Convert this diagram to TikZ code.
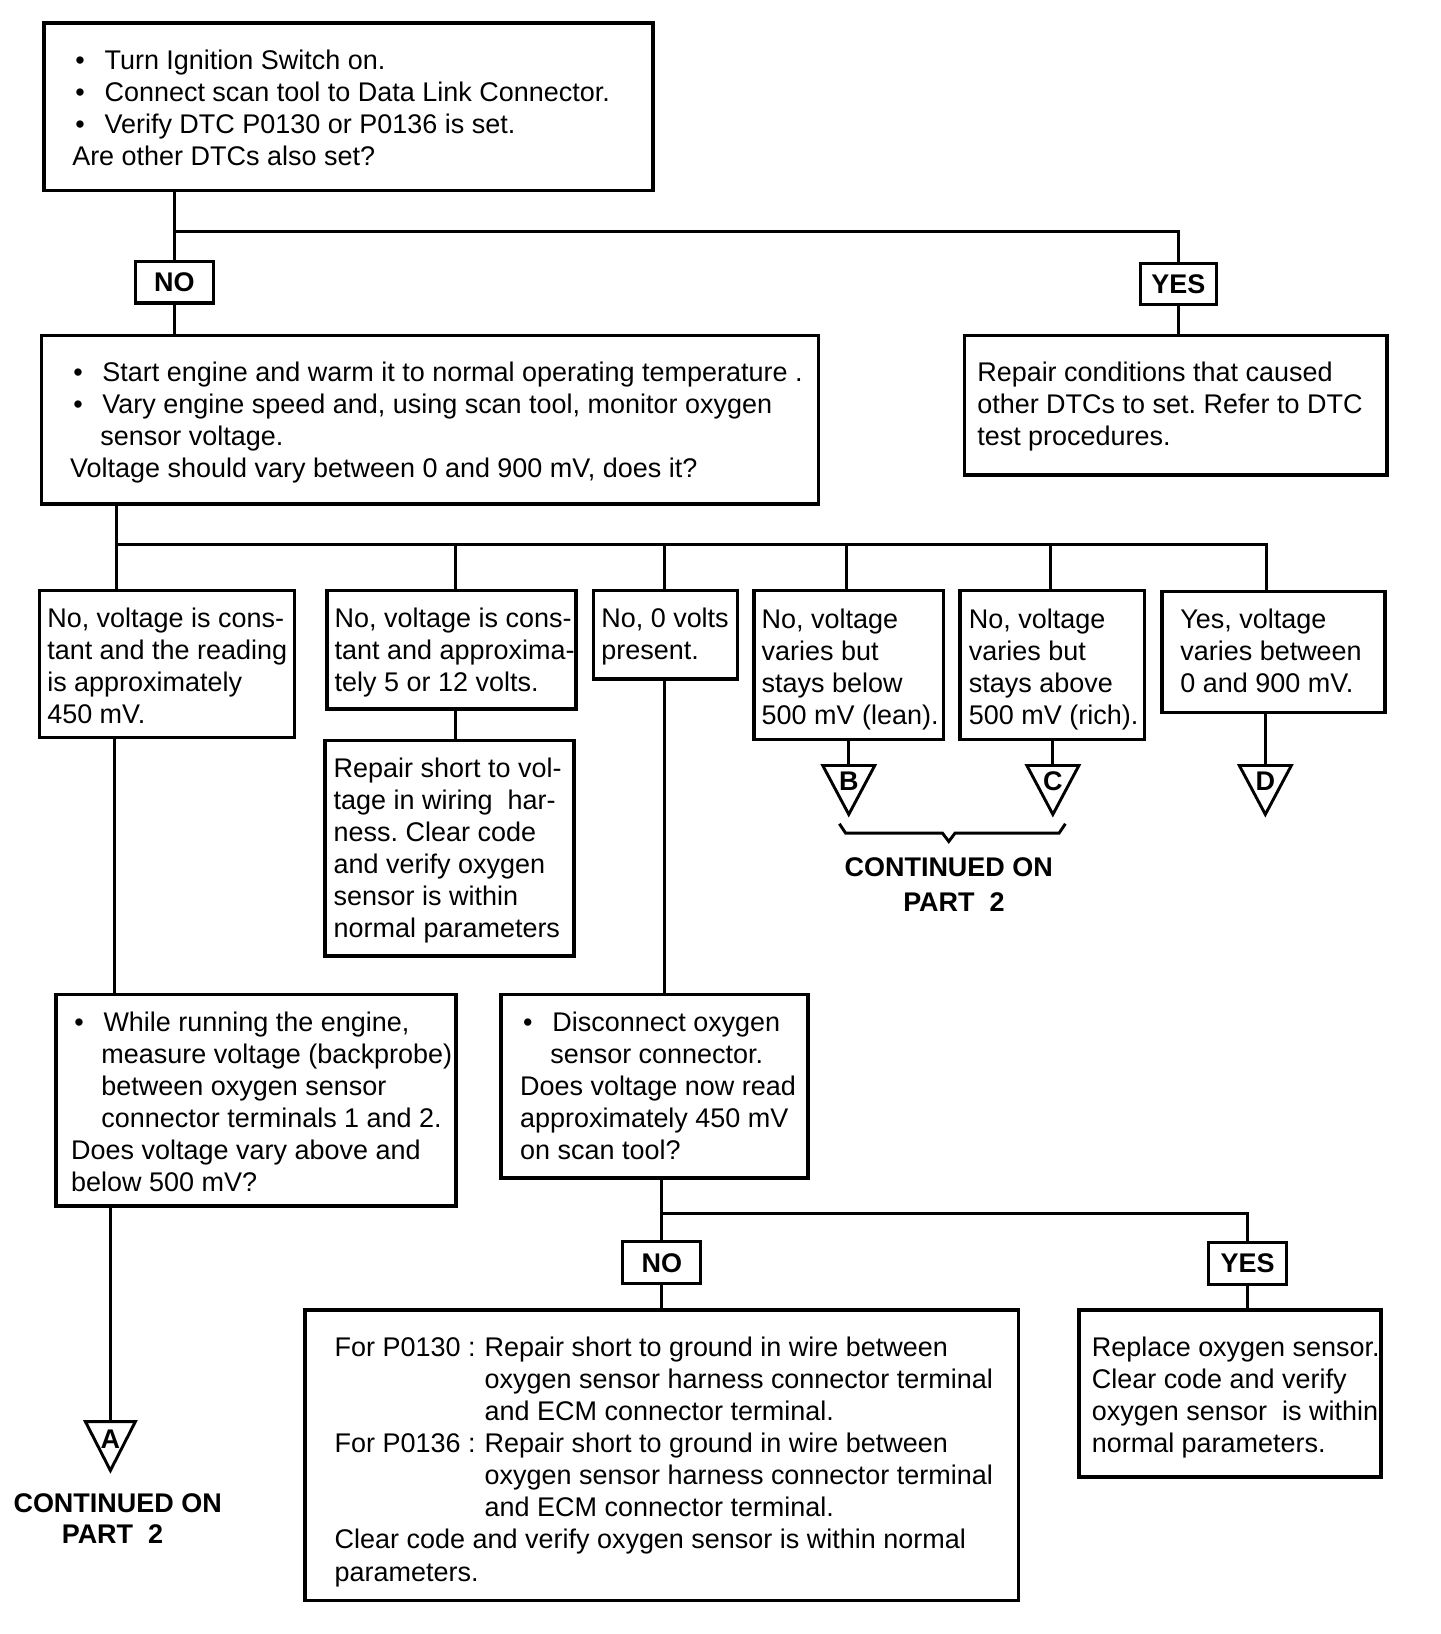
\documentclass[tikz,border=0pt]{standalone}
\usepackage{fontspec}
\setmainfont{Liberation Sans}
\usetikzlibrary{fit}
\newcommand{\bul}{\makebox[15.5pt][l]{\hspace{1.5pt}\textbullet}}
\newcommand{\ind}{\hspace*{14.5pt}}
\frenchspacing
\begin{document}
\begin{tikzpicture}[x=0.5pt,y=-0.5pt,
  box/.style={draw, line width=1.7pt, inner sep=0pt},
  txt/.style={anchor=north west, inner sep=0pt, align=left, font=\fontsize{12.95}{15.4}\selectfont\frenchspacing},
  lbl/.style={draw, line width=1.5pt, inner sep=0pt, minimum width=37.5pt, minimum height=20pt, font=\fontsize{12.95}{15.4}\selectfont\bfseries},
  conn/.style={line width=1.4pt},
  tri/.style={line width=1.4pt, line join=miter},
  cont/.style={inner sep=0pt, font=\fontsize{12.95}{15.4}\selectfont\bfseries},
  letter/.style={inner sep=0pt, font=\fontsize{12.95}{15.4}\selectfont\bfseries}]
\useasboundingbox (0,0) rectangle (1383,1569);
\fill[white] (0,0) rectangle (1383,1569);

% ---------- boxes ----------
\node[box, fit={(42,22) (627,183)}] (top) {};
\node[txt] (ttop) at (69,44.6) {\strut\bul Turn Ignition Switch on.\\
\bul Connect scan tool to Data Link Connector.\\
\bul Verify DTC P0130 or P0136 is set.\\
Are other DTCs also set?};

\node[lbl] (no) at (167.5,271) {NO};
\node[lbl, minimum width=36.5pt, minimum height=19.5pt] (yes) at (1131.5,272.5) {YES};

\node[box, fit={(40,322) (786,484)}] (box2) {};
\node[txt] (tbox2) at (67,344.6) {\strut\bul Start engine and warm it to normal operating temperature .\\
\bul Vary engine speed and, using scan tool, monitor oxygen\\
\ind sensor voltage.\\
Voltage should vary between 0 and 900 mV, does it?};

\node[box, fit={(926,322) (1332,456)}] (box3) {};
\node[txt] (tbox3) at (938,344.6) {\strut Repair conditions that caused\\
other DTCs to set. Refer to DTC\\
test procedures.};

\node[box, fit={(38,567) (283,708)}] (b1) {};
\node[txt] (tb1) at (45,580.6) {\strut No, voltage is cons-\\tant and the reading\\is approximately\\450 mV.};

\node[box, fit={(314,567) (553,681)}] (b2) {};
\node[txt] (tb2) at (321,580.6) {\strut No, voltage is cons-\\tant and approxima-\\tely 5 or 12 volts.};

\node[box, fit={(570,567) (708,652)}] (b3) {};
\node[txt] (tb3) at (577,580.6) {\strut No, 0 volts\\present.};

\node[box, fit={(724,567) (906,710)}] (b4) {};
\node[txt] (tb4) at (731,581.6) {\strut No, voltage\\varies but\\stays below\\500 mV (lean).};

\node[box, fit={(922,567) (1099,710)}] (b5) {};
\node[txt] (tb5) at (930,581.6) {\strut No, voltage\\varies but\\stays above\\500 mV (rich).};

\node[box, fit={(1116,568) (1330,684)}] (b6) {};
\node[txt] (tb6) at (1133,581.6) {\strut Yes, voltage\\varies between\\0 and 900 mV.};

\node[box, fit={(312,711) (551,918)}] (r) {};
\node[txt] (tr) at (320,724.6) {\strut Repair short to vol-\\tage in wiring\ \ har-\\ness. Clear code\\and verify oxygen\\sensor is within\\normal parameters};

\node[box, fit={(54,955) (438,1158)}] (w) {};
\node[txt] (tw) at (68,968.6) {\strut\bul While running the engine,\\
\ind measure voltage (backprobe)\\
\ind between oxygen sensor\\
\ind connector terminals 1 and 2.\\
Does voltage vary above and\\
below 500 mV?};

\node[box, fit={(481,955) (776,1131)}] (xb) {};
\node[txt] (txb) at (499,968.6) {\strut\bul Disconnect oxygen\\
\ind sensor connector.\\
Does voltage now read\\
approximately 450 mV\\
on scan tool?};

\node[lbl] (no2) at (635.5,1212.5) {NO};
\node[lbl] (yes2) at (1198,1213) {YES};

\node[box, fit={(293,1258) (978,1537)}] (yb) {};
\node[txt] (tyb) at (321,1280.6) {\strut\makebox[72pt][l]{For P0130 :}Repair short to ground in wire between\\
\hspace*{72pt}oxygen sensor harness connector terminal\\
\hspace*{72pt}and ECM connector terminal.\\
\makebox[72pt][l]{For P0136 :}Repair short to ground in wire between\\
\hspace*{72pt}oxygen sensor harness connector terminal\\
\hspace*{72pt}and ECM connector terminal.\\
Clear code and verify oxygen sensor is within normal\\
parameters.};

\node[box, fit={(1036,1258) (1326,1418)}] (zb) {};
\node[txt] (tzb) at (1048,1280.6) {\strut Replace oxygen sensor.\\Clear code and verify\\oxygen sensor\ \ is within\\normal parameters.};

% ---------- connectors ----------
\coordinate (j1) at (168,222);
\draw[conn] (no.north |- top.south) -- (no.north);
\draw[conn] (j1) -| (yes.north);
\draw[conn] (no.south) -- (no.south |- box2.north);
\draw[conn] (yes.south) -- (yes.south |- box3.north);

\coordinate (d1) at (112,523);
\coordinate (d2) at (437,523);
\coordinate (d3) at (638,523);
\coordinate (d4) at (813,523);
\coordinate (d5) at (1009,523);
\coordinate (d6) at (1216,523);
\draw[conn] (d1 |- box2.south) -- (d1) -- (d6) -- (d6 |- b6.north);
\draw[conn] (d1) -- (d1 |- b1.north);
\draw[conn] (d2) -- (d2 |- b2.north);
\draw[conn] (d3) -- (d3 |- b3.north);
\draw[conn] (d4) -- (d4 |- b4.north);
\draw[conn] (d5) -- (d5 |- b5.north);

\draw[conn] (d2 |- b2.south) -- (d2 |- r.north);

% connectors to off-page triangles
\coordinate (tBt) at (815,735);
\coordinate (tCt) at (1011,735);
\coordinate (tDt) at (1215,735);
\coordinate (tAt) at (106,1365);
\draw[conn] (b4.south -| tBt) -- (tBt);
\draw[conn] (b5.south -| tCt) -- (tCt);
\draw[conn] (b6.south -| tDt) -- (tDt);
\draw[tri] (tBt) ++(-25,0) -- ++(50,0) -- ++(-25,47) -- cycle;
\draw[tri] (tCt) ++(-25,0) -- ++(50,0) -- ++(-25,47) -- cycle;
\draw[tri] (tDt) ++(-25,0) -- ++(50,0) -- ++(-25,47) -- cycle;
\draw[tri] (tAt) ++(-24,0) -- ++(48,0) -- ++(-24,47) -- cycle;
\node[letter] (lB) at (815,750) {B};
\node[letter] (lC) at (1011,750) {C};
\node[letter] (lD) at (1215,750) {D};
\node[letter] (lA) at (106,1382) {A};

\draw[conn, line join=miter] (806,791) -- (812,800) -- (905,800) -- (911,808) -- (917,800) -- (1017,800) -- (1023,791);
\node[cont] (c1a) at (911,833) {CONTINUED ON};
\node[cont] (c1b) at (916,866) {PART\ \ 2};

\coordinate (e1) at (110,0);
\draw[conn] (b1.south -| e1) -- (w.north -| e1);
\draw[conn] (w.south -| tAt) -- (tAt);
\node[cont] (c2a) at (113,1443) {CONTINUED ON};
\node[cont] (c2b) at (108,1473) {PART\ \ 2};

\draw[conn] (b3.south -| d3) -- (xb.north -| d3);
\coordinate (j3) at (636,1165);
\draw[conn] (xb.south -| no2.north) -- (no2.north);
\draw[conn] (j3) -| (yes2.north);
\draw[conn] (no2.south) -- (no2.south |- yb.north);
\draw[conn] (yes2.south) -- (yes2.south |- zb.north);
\end{tikzpicture}
\end{document}
